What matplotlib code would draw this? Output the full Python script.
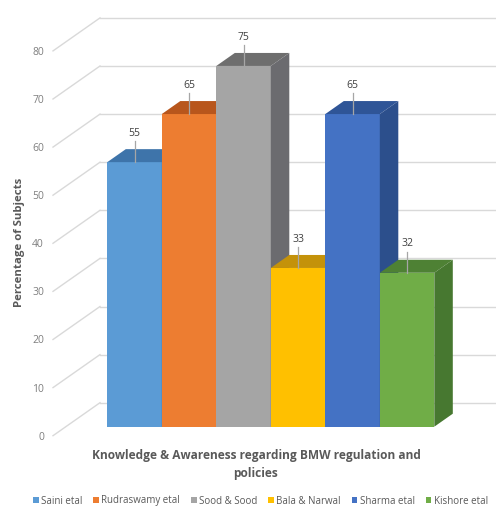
import matplotlib
matplotlib.use("Agg")
import matplotlib.pyplot as plt
from matplotlib.patches import Polygon, Rectangle
import numpy as np

# ---- data ----
studies = ["Saini etal", "Rudraswamy etal", "Sood & Sood", "Bala & Narwal", "Sharma etal", "Kishore etal"]
values = [55, 65, 75, 33, 65, 32]
yticks = [0, 10, 20, 30, 40, 50, 60, 70, 80]
ylabel = "Percentage of Subjects"
xtitle = "Knowledge & Awareness regarding BMW regulation and\npolicies"

front_cols = ["#5B9BD5", "#ED7D31", "#A5A5A5", "#FFC000", "#4472C4", "#70AD47"]
top_cols = ["#3E74AA", "#B8561C", "#6E6E6E", "#C4920A", "#2F5597", "#4E8134"]
side_cols = ["#3A6C9E", "#A94E18", "#6B6B6F", "#B8870A", "#2C4F8C", "#477830"]

W, H = 496, 508
fig = plt.figure(figsize=(W / 100, H / 100), dpi=100)
ax = fig.add_axes([0, 0, 1, 1])

# scales (pixels per data unit)
PX_X = 54.5          # per category
PX_Y = 4.81          # per value unit
x0_px = 134.55       # center of first bar
y0_px = 426.7        # value 0 at bar front plane (from top)
ax.set_xlim(-x0_px / PX_X, (W - x0_px) / PX_X)
ax.set_ylim(-(H - y0_px) / PX_Y, y0_px / PX_Y)
ax.axis("off")

def px(dx, dy):
    """pixel offset -> data offset (dy positive = up)"""
    return dx / PX_X, dy / PX_Y

# depth geometry
bdx, bdy = px(18.5, 13.0)     # bar depth
wdx, wdy = px(35.0, 24.0)     # back wall offset from bar front
fdx, fdy = px(-12.0, -9.0)    # front edge of side wall
wall_x = (65 - x0_px) / PX_X  # left wall x at bar-front depth
right_x = (W - x0_px) / PX_X

grid_c = "#D9D9D9"
for t in yticks:
    # diagonal on left wall
    ax.plot([wall_x + fdx, wall_x + wdx], [t + fdy, t + wdy], color=grid_c, lw=1.0, zorder=1)
    # horizontal on back wall
    ax.plot([wall_x + wdx, right_x], [t + wdy, t + wdy], color=grid_c, lw=1.0, zorder=1)
    ax.text(wall_x + fdx - 9 / PX_X, t + fdy - 0.3, str(t), ha="right", va="center",
            fontsize=7.5, color="#7F7F7F", family="Open Sans")

n = len(values)
xs = np.arange(n)
for i, (x, v) in enumerate(zip(xs, values)):
    l, r = x - 0.5, x + 0.5
    ax.add_patch(Rectangle((l, 0), 1.0, v, facecolor=front_cols[i], edgecolor="none", zorder=3 + i))
    ax.add_patch(Polygon([(l, v), (r, v), (r + bdx, v + bdy), (l + bdx, v + bdy)],
                         closed=True, facecolor=top_cols[i], edgecolor="none", zorder=3 + i))
    ax.add_patch(Polygon([(r, 0), (r + bdx, bdy), (r + bdx, v + bdy), (r, v)],
                         closed=True, facecolor=side_cols[i], edgecolor="none", zorder=3 + i))
    # data label with leader line
    ax.plot([x, x], [v, v + 4.3], color="#A6A6A6", lw=0.9, zorder=20)
    ax.text(x, v + 6.0, str(v), ha="center", va="center", fontsize=7.5,
            color="#404040", family="Open Sans", zorder=21)

# axis titles
ax.text((20 - x0_px) / PX_X, (y0_px - 242) / PX_Y, ylabel, rotation=90, ha="center", va="center",
        fontsize=8.2, fontweight="bold", color="#595959", family="Open Sans")
ax.text((256 - x0_px) / PX_X, (y0_px - 464.5) / PX_Y, xtitle, ha="center", va="center",
        fontsize=8.6, fontweight="bold", color="#595959", family="Open Sans",
        linespacing=1.45, multialignment="center")

# legend
handles = [Rectangle((0, 0), 1, 1, facecolor=c, edgecolor="none") for c in front_cols]
leg = fig.legend(handles, studies, loc="center", bbox_to_anchor=(0.525, 1 - 501 / H),
                 ncol=6, frameon=False, fontsize=7.0, handlelength=0.6, handleheight=0.6,
                 handletextpad=0.25, columnspacing=1.1, borderpad=0)
for t in leg.get_texts():
    t.set_color("#595959")
    t.set_family("Open Sans")

fig.savefig("out.png", dpi=100)
